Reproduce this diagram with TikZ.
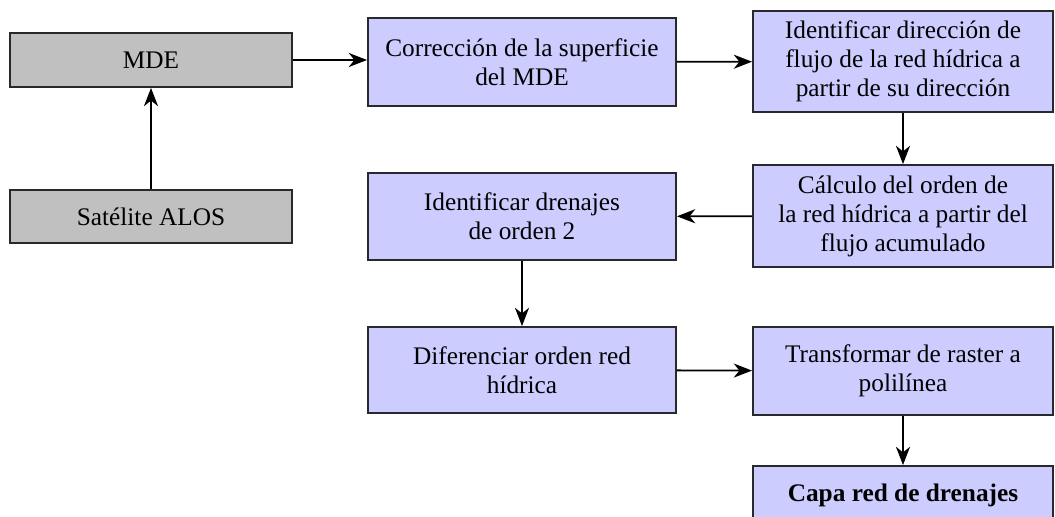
\documentclass[tikz,border=0pt]{standalone}
\usepackage{fontspec}
\setmainfont{Liberation Serif}
\usetikzlibrary{arrows.meta}
\definecolor{boxblue}{RGB}{204,204,255}
\definecolor{boxgray}{RGB}{192,192,192}
\definecolor{edge}{RGB}{40,40,45}

\begin{document}
\begin{tikzpicture}[x=0.025cm, y=-0.025cm, line width=1.3pt,
  font=\fontsize{18}{20.6}\selectfont,
  blk/.style={draw=edge, align=center, inner sep=0pt},
  src/.style={blk, fill=boxgray, minimum width=7.05cm},
  wide/.style={blk, fill=boxblue, minimum width=7.7cm},
  slim/.style={blk, fill=boxblue, minimum width=7.5cm},
  flow/.style={-{Stealth[length=13pt, width=10pt, inset=4pt]}}]

  % ---------- page ----------
  \useasboundingbox (0,0) rectangle (1055,517);

  % ---------- input column ----------
  \node[src, minimum height=1.35cm]  (mde)  at (151,60)    {MDE};
  \node[src, minimum height=1.325cm] (alos) at (151,216.5) {Satélite ALOS};

  % ---------- middle column ----------
  \node[wide, minimum height=2.2cm]   (corr) at (522,62)    {Corrección de la superficie\\del MDE};
  \node[wide, minimum height=2.175cm] (dren) at (522,216.5) {Identificar drenajes\\de orden 2};
  \node[wide, minimum height=2.15cm]  (dif)  at (522,370)   {Diferenciar orden red\\hídrica};

  % ---------- right column ----------
  \node[slim, minimum height=2.525cm] (dirf) at (903,61.5) {Identificar dirección de\\flujo de la red hídrica a\\partir de su dirección};
  \node[slim, minimum height=2.55cm]  (ord)  at (903,216)  {Cálculo del orden de\\la red hídrica a partir del\\flujo acumulado};
  \node[slim, minimum height=2.2cm]   (ras)  at (903,371)  {Transformar de raster a\\polilínea};
  \node[slim, minimum height=1.45cm]  (capa) at (903,495)  {\bfseries Capa red de drenajes};

  % ---------- arrows ----------
  \draw[flow] (alos) -- (mde);
  \draw[flow] (mde.east) -- (mde.east -| corr.west);
  \draw[flow] (corr) -- (dirf);
  \draw[flow] (dirf) -- (ord);
  \draw[flow] (ord) -- (dren);
  \draw[flow] (dren) -- (dif);
  \draw[flow] (dif) -- (ras);
  \draw[flow] (ras) -- (capa);

\end{tikzpicture}
\end{document}
